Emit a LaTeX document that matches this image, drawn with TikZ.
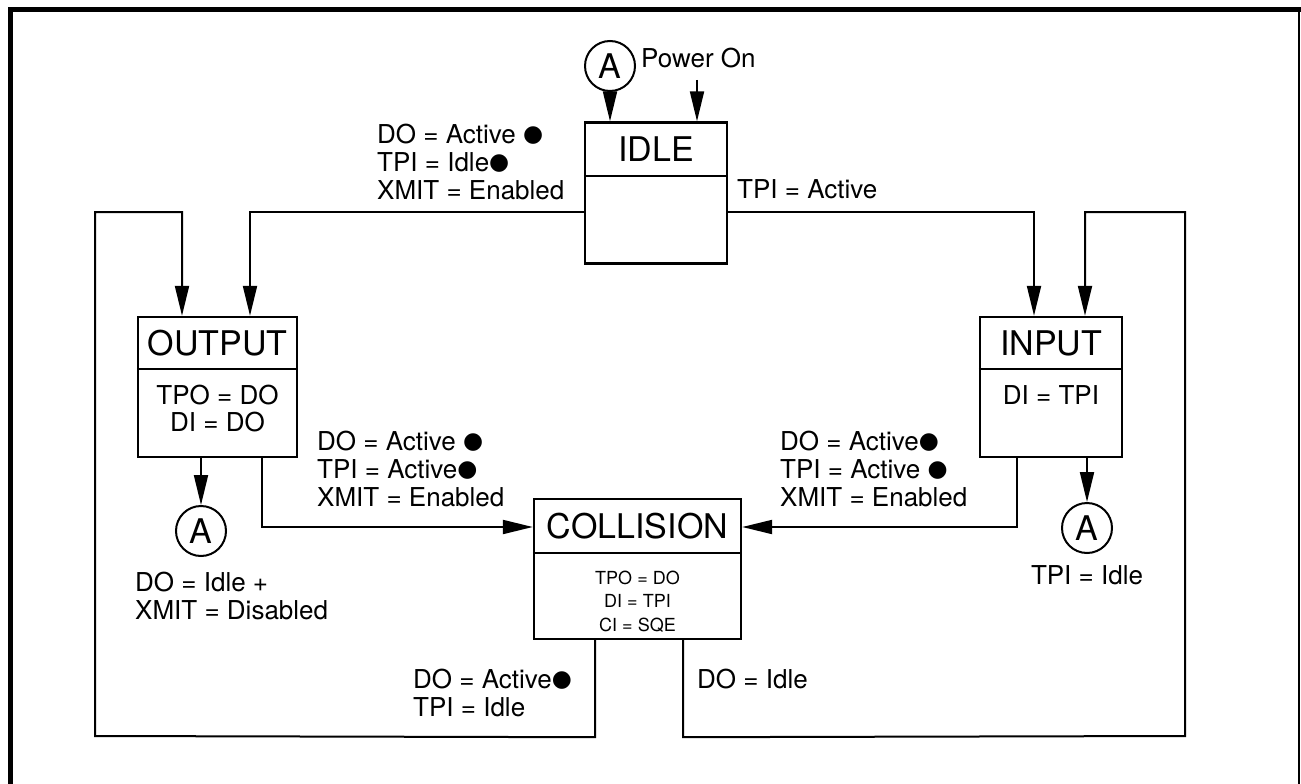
\documentclass[tikz,border=0pt]{standalone}
\usepackage{fontspec}
\setmainfont{TeX Gyre Heros}
\newfontfamily\symf{DejaVu Sans}
\usetikzlibrary{arrows.meta,calc}
\newcommand{\bul}{\raisebox{1.5pt}{\symf\fontsize{23}{23}\selectfont ●}}
\begin{document}
\begin{tikzpicture}[x=1pt,y=-1pt,
  conn/.style={line width=2pt},
  arr/.style={line width=2pt,-{Triangle[length=30pt,width=14pt]}},
  statebox/.style={draw,line width=2.4pt,inner sep=0,rectangle},
  title/.style={inner sep=0,font=\fontsize{34}{40}\selectfont},
  body/.style={inner sep=0,align=center,font=\fontsize{26}{27}\selectfont},
  smallbody/.style={inner sep=0,align=center,font=\fontsize{18}{23.5}\selectfont},
  lbl/.style={inner sep=0,align=left,anchor=north west,font=\fontsize{26}{28}\selectfont},
  conncircle/.style={draw,circle,line width=2pt,inner sep=0,minimum size=50,font=\fontsize{34}{34}\selectfont}]
\useasboundingbox (0,0) rectangle (1301,784);
% frame
\draw[line width=5pt] (1301,10) -- (10,10) -- (10,784);
\draw[line width=2pt] (1299,10) -- (1299,784);

% state boxes
\node[statebox,minimum width=142,minimum height=141] (idle) at (656,193) {};
\draw[line width=2.4pt] (idle.west |- 0,176) -- (idle.east |- 0,176);
\node[title] (idlet) at (656,149) {IDLE};

\node[statebox,minimum width=159,minimum height=140] (output) at (217.5,387) {};
\draw[line width=2.4pt] (output.west |- 0,369) -- (output.east |- 0,369);
\node[title] (outputt) at (217.5,343) {OUTPUT};
\node[body] (outputb) at (217.5,408.5) {TPO = DO\\DI = DO};

\node[statebox,minimum width=142,minimum height=140] (input) at (1051,387) {};
\draw[line width=2.4pt] (input.west |- 0,369) -- (input.east |- 0,369);
\node[title] (inputt) at (1051,343) {INPUT};
\node[body] (inputb) at (1051,395) {DI = TPI};

\node[statebox,minimum width=207,minimum height=140] (coll) at (637.5,569) {};
\draw[line width=2.4pt] (coll.west |- 0,553) -- (coll.east |- 0,553);
\node[title] (collt) at (637.5,526) {COLLISION};
\node[smallbody] (collb) at (637.5,601.5) {TPO = DO\\DI = TPI\\CI = SQE};

% connector circles
\node[conncircle] (atop) at (610,66) {A};
\node[conncircle] (aout) at (201,531) {A};
\node[conncircle] (ain) at (1087,528) {A};
\node[lbl,anchor=west] (pwr) at (641,58) {Power On};
\coordinate (pwrin) at (697,80);

% arrows into IDLE
\draw[arr] (atop.south) -- (atop.south |- idle.north);
\draw[arr] (pwrin) -- (pwrin |- idle.north);

% IDLE -> OUTPUT / INPUT
\draw[arr] ([yshift=-19pt]idle.west) -| ([xshift=32.5pt]output.north);
\draw[arr] ([yshift=-19pt]idle.east) -| ([xshift=-17pt]input.north);

% outer loops
\draw[arr] ([xshift=-42.5pt]coll.south) -- ++(0,97) -- (95,736) -- (95,212) -| ([xshift=-35.5pt]output.north);
\draw[arr] ([xshift=45.5pt]coll.south) -- ++(0,97) -- (1185,736) -- (1185,212) -| ([xshift=34pt]input.north);

% to A circles
\draw[arr] ([xshift=-16.5pt]output.south) -- (aout.north);
\draw[arr] ([xshift=36pt]input.south) -- (ain.north);

% to COLLISION
\draw[arr] ([xshift=44.5pt]output.south) |- ([yshift=42pt]coll.west);
\draw[arr] ([xshift=-34pt]input.south) |- ([yshift=42pt]coll.east);

% labels
\node[lbl] (l1) at (377,123.5) {DO = Active \bul\\TPI = Idle\bul\\XMIT = Enabled};
\node[lbl] (l2) at (737,179.5) {TPI = Active};
\node[lbl] (l3) at (317,430.5) {DO = Active \bul\\TPI = Active\bul\\XMIT = Enabled};
\node[lbl] (l4) at (780,430.5) {DO = Active\bul\\TPI = Active \bul\\XMIT = Enabled};
\node[lbl] (l5) at (135,572) {DO = Idle +\\XMIT = Disabled};
\node[lbl,anchor=north] (l6) at (1087,565) {TPI = Idle};
\node[lbl] (l7) at (413,668.5) {DO = Active\bul\\TPI = Idle};
\node[lbl] (l8) at (697,668.5) {DO = Idle};
\end{tikzpicture}
\end{document}
